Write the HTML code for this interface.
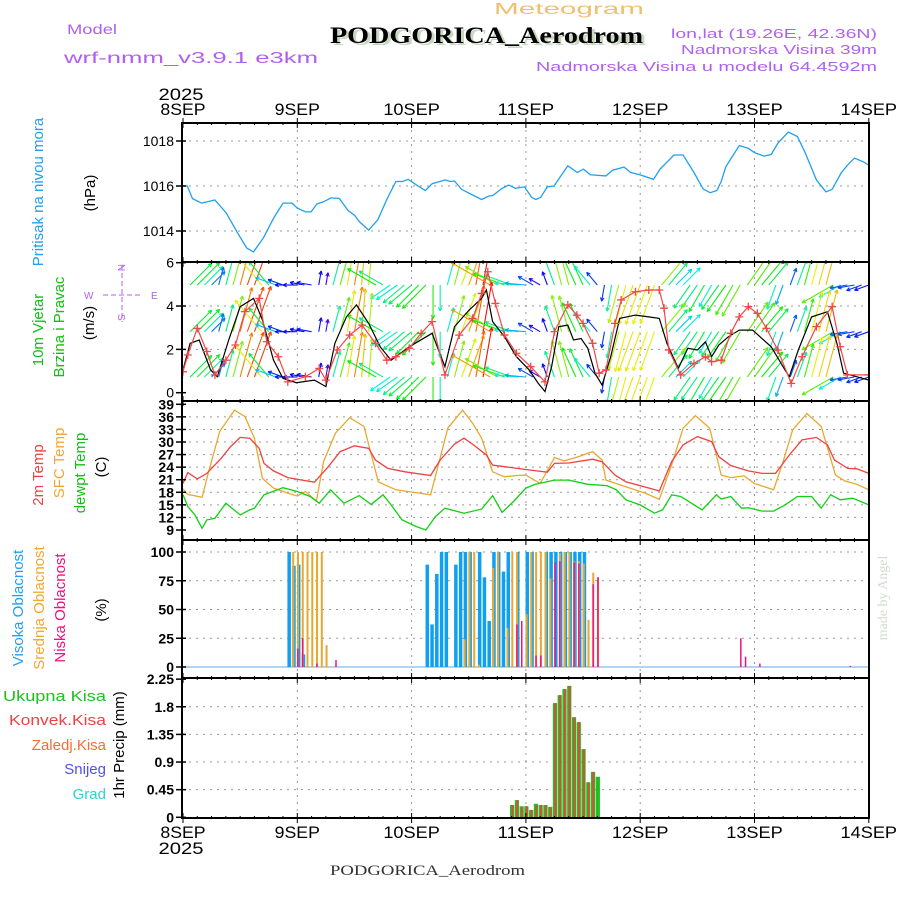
<!DOCTYPE html>
<html><head><meta charset="utf-8">
<style>
html,body{margin:0;padding:0;background:#fff;}
svg{display:block;font-family:"Liberation Sans",sans-serif;}
</style></head>
<body>
<svg id="chart" width="900" height="900" viewBox="0 0 900 900" xmlns="http://www.w3.org/2000/svg">
<defs>
<clipPath id="c1"><rect x="182" y="123" width="687" height="139"/></clipPath>
<clipPath id="c2"><rect x="182" y="263" width="687" height="138"/></clipPath>
<clipPath id="c3"><rect x="182" y="402" width="687" height="138"/></clipPath>
<clipPath id="c4"><rect x="182" y="541" width="687" height="137"/></clipPath>
<clipPath id="c5"><rect x="182" y="679" width="687" height="139"/></clipPath>
</defs>
<g>
<text x="569" y="14" fill="#f0c070" font-size="16" text-anchor="middle" textLength="150" lengthAdjust="spacingAndGlyphs">Meteogram</text>
<text x="67" y="34" fill="#b060f0" font-size="14" textLength="50" lengthAdjust="spacingAndGlyphs">Model</text>
<text x="64" y="63" fill="#b060f0" font-size="16" textLength="254" lengthAdjust="spacingAndGlyphs">wrf-nmm_v3.9.1 e3km</text>
<text x="333" y="45" fill="#c8d8c0" font-size="23" font-weight="bold" font-family="Liberation Serif, serif" textLength="313" lengthAdjust="spacingAndGlyphs">PODGORICA_Aerodrom</text>
<text x="330" y="43" fill="#000" font-size="23" font-weight="bold" font-family="Liberation Serif, serif" textLength="313" lengthAdjust="spacingAndGlyphs">PODGORICA_Aerodrom</text>
<text x="877" y="38" fill="#b060f0" font-size="13" text-anchor="end" textLength="206" lengthAdjust="spacingAndGlyphs">lon,lat (19.26E, 42.36N)</text>
<text x="877" y="54" fill="#b060f0" font-size="13" text-anchor="end" textLength="196" lengthAdjust="spacingAndGlyphs">Nadmorska Visina 39m</text>
<text x="877" y="71" fill="#b060f0" font-size="13" text-anchor="end" textLength="341" lengthAdjust="spacingAndGlyphs">Nadmorska Visina u modelu 64.4592m</text>
</g>
<g id="grid"></g>
<g id="marks"></g>
<g id="axes"></g>
<g font-size="15">
<text transform="translate(43,192) rotate(-90)" fill="#20a0f0" text-anchor="middle">Pritisak na nivou mora</text>
<text transform="translate(95,193) rotate(-90)" fill="#000" text-anchor="middle">(hPa)</text>
<text transform="translate(43,330) rotate(-90)" fill="#10c010" text-anchor="middle">10m Vjetar</text>
<text transform="translate(64,327) rotate(-90)" fill="#10c010" text-anchor="middle">Brzina i Pravac</text>
<text transform="translate(94,323) rotate(-90)" fill="#000" text-anchor="middle">(m/s)</text>
<text transform="translate(43,475) rotate(-90)" fill="#f04040" text-anchor="middle">2m Temp</text>
<text transform="translate(64,463) rotate(-90)" fill="#f0a830" text-anchor="middle">SFC Temp</text>
<text transform="translate(85,473) rotate(-90)" fill="#10c010" text-anchor="middle">dewpt Temp</text>
<text transform="translate(106,467) rotate(-90)" fill="#000" text-anchor="middle">(C)</text>
<text transform="translate(23,608) rotate(-90)" fill="#20a0f0" text-anchor="middle">Visoka Oblacnost</text>
<text transform="translate(44,608) rotate(-90)" fill="#f0a830" text-anchor="middle">Srednja Oblacnost</text>
<text transform="translate(65,608) rotate(-90)" fill="#f01080" text-anchor="middle">Niska Oblacnost</text>
<text transform="translate(106,610) rotate(-90)" fill="#000" text-anchor="middle">(%)</text>
<text transform="translate(124,745) rotate(-90)" fill="#000" text-anchor="middle">1hr Precip (mm)</text>
<g text-anchor="end" font-size="15">
<text x="106" y="701" fill="#20c020" textLength="103" lengthAdjust="spacingAndGlyphs">Ukupna Kisa</text>
<text x="106" y="725" fill="#f04040" textLength="97" lengthAdjust="spacingAndGlyphs">Konvek.Kisa</text>
<text x="106" y="750" fill="#f07030">Zaledj.Kisa</text>
<text x="106" y="774" fill="#5050f0">Snijeg</text>
<text x="106" y="799" fill="#30d0d0">Grad</text>
</g>
</g>
<g stroke="#b060f0" fill="#b060f0" font-size="10">
<line x1="103" y1="295" x2="140" y2="295" stroke-dasharray="5,3"/>
<line x1="122" y1="265" x2="122" y2="322" stroke-dasharray="5,3"/>
<text x="84" y="299" stroke="none">W</text>
<text x="151" y="299" stroke="none">E</text>
<text x="118" y="272" stroke="none" transform="rotate(90,122,268)">N</text>
<text x="118" y="322" stroke="none" transform="rotate(90,122,318)">S</text>
</g>
<text x="330" y="875" fill="#333" font-size="15" font-family="Liberation Serif, serif" textLength="195" lengthAdjust="spacingAndGlyphs">PODGORICA_Aerodrom</text>
<text transform="translate(887,598) rotate(-90)" fill="#d0dcd0" font-size="14" font-family="Liberation Serif, serif" text-anchor="middle">made by Angel</text>
</svg>
<script>
// ---------- data ----------
const dayLabels = ["8SEP","9SEP","10SEP","11SEP","12SEP","13SEP","14SEP"];
const presHours = [0,0.9,2,3.9,6.7,9.1,11.5,13.4,14.8,16.9,19.1,21,22.9,24,25.7,26.9,28.1,29.5,31.1,32.8,34.7,36,37.1,39,40.9,42.8,44.7,46.1,47.3,49,50.9,52.3,55.1,56.1,57,58.5,60.8,62.7,64.2,65.1,67,68.4,69.8,71.7,73.2,74.1,75.1,76.5,77.9,80.8,82.8,84.1,85.5,88.8,90.2,92.6,94,95.9,98.8,100.2,103.1,105,107.3,109.2,110.7,112.1,113,114,116.8,118.7,120.1,122,123.5,124.9,127.1,129,130.6,133,135,136.3,138.2,139.4,141,142.9,144];
const presVals = [1016.0,1016.0,1015.44,1015.24,1015.38,1014.8,1013.9,1013.24,1013.07,1013.7,1014.6,1015.24,1015.24,1015.02,1014.85,1014.85,1015.2,1015.3,1015.47,1015.45,1014.9,1014.7,1014.4,1014.04,1014.5,1015.4,1016.2,1016.2,1016.3,1016.05,1015.8,1016.1,1016.27,1016.2,1016.22,1015.85,1015.6,1015.4,1015.55,1015.58,1015.9,1016.04,1015.9,1015.96,1015.5,1015.4,1015.5,1015.96,1016.0,1016.9,1016.6,1016.75,1016.5,1016.45,1016.7,1016.84,1016.6,1016.5,1016.3,1016.76,1017.38,1017.38,1016.6,1015.87,1015.7,1015.8,1016.2,1016.86,1017.8,1017.67,1017.47,1017.33,1017.4,1017.9,1018.4,1018.2,1017.5,1016.27,1015.74,1015.85,1016.58,1016.9,1017.24,1017.07,1016.93];

const windHours = [0,1.5,3.4,5.8,7.2,9.6,12,14.8,16.7,19,21,23.8,27.6,30,31.9,34.3,36.4,39,41.4,43.7,47.5,52.3,55,57,60,62.7,63.7,65,67.5,70,72.7,74.6,76,77.4,78.9,80.8,82,83.6,85,86.5,88,89.8,91.7,95,97.8,100,101.6,104,106,108,109.7,111,112.5,114.5,116.8,119.6,123.5,126.4,127.3,129.2,132,135.3,137.3,138.7,144];
const windSpeed = [1.05,2.28,2.43,1.05,0.74,2.43,3.97,4.35,3.35,1.5,0.66,0.46,0.58,0.28,2.28,3.5,4.05,3.2,2.12,1.5,2.12,2.74,1.2,3.05,3.8,4.35,4.74,3.28,2.58,1.66,1.05,0.43,0.05,1.2,3.05,3.12,2.43,2.5,2.05,0.9,0.35,1.66,3.43,3.58,3.5,3.43,2.28,1.12,2.05,1.97,2.35,1.66,2.2,2.58,2.89,2.89,2.12,1.05,0.74,1.97,3.5,3.74,2.28,0.9,0.58];
const gustHours = [0,1,3,5,6.7,9,11,13,16,17.6,20,22,25.7,28.6,30,32.4,35,37.6,40.4,42.8,44.7,47.5,50,52.3,55,58,60.8,62.7,64,65.6,67.5,70,73,76,78,80.8,82.7,84,86,87.4,88.8,90.7,92,95,97.8,100,101,102,104.5,107.3,109.7,111,113,115,116.8,118.7,120.6,122.5,124.9,127.7,130,133,136.3,138,139.5,144];
const gustSpeed = [0.97,1.74,2.97,1.9,0.82,1.5,2.2,3.74,4.35,2.35,1.66,0.5,0.74,1.12,0.58,1.97,2.66,3.12,2.28,1.5,1.66,2.05,2.74,3.28,0.82,2.66,3.43,4.58,5.58,4.12,2.66,1.82,1.2,0.5,2.82,4.05,3.58,3.2,2.28,0.9,1.05,3.2,4.28,4.66,4.74,4.74,3.9,1.97,0.82,1.35,1.66,1.43,1.5,2.74,3.5,3.97,3.66,2.97,1.97,0.43,1.66,3.05,3.97,2.12,0.82,0.82];
const windDirHours = [0,3,6,9,12,15,18,21,24,27,30,33,36,39,42,45,48,51,54,57,60,63,66,69,72,75,78,81,84,87,90,93,96,99,102,105,108,111,114,117,120,123,126,129,132,135,138,141,144];
const windDir = [210,45,45,15,15,20,320,290,270,280,10,15,10,5,300,235,230,225,180,15,20,10,300,290,275,300,340,345,335,320,190,195,200,200,40,45,215,210,215,210,35,40,200,20,15,15,240,260,250];

const t2Hours = [0,1,3,5,8,10,12,14,16,17,19,22,25,27.6,30.5,33,36,39,40.4,43,46.6,52,54,57,59,61,63.7,65,67.5,73,76.5,78,81,86,88,90.7,93,98,100,102.6,105,108,111,112.5,115,118.7,121.6,124.4,127.3,130,133,135.3,136.8,139.6,141.5,144];
const t2Vals = [20.1,22.7,21.2,22.5,26.1,28.9,31.1,30.9,28.5,24.9,23.1,21.5,20.9,20.4,24.1,27.7,29.1,28.5,25.7,23.7,22.9,22.0,25.7,29.5,30.9,29.3,26.9,24.5,24.1,23.3,22.8,24.9,25.0,25.9,25.3,22.1,20.5,18.95,18.3,25.3,29.3,31.3,30.1,26.5,24.4,23.1,22.5,22.5,26.9,30.5,31.1,29.3,25.7,23.7,23.6,22.5];
const sfcHours = [0,1,4,5.3,7.7,10.8,13,15,16.7,19,22,24,25.7,28,29.5,32,35,38,41,44.7,52,55.6,58.7,60.8,62.7,65,67.5,70,72,75,78,80,83,86,88,88.8,92,97,100,102.6,105,107.6,110.6,113,115,117.8,120,124,126,128,131,134,137,139,141.5,144];
const sfcVals = [18.8,17.5,16.8,22.5,32.5,37.6,36.1,30.9,21.3,19.0,17.8,17.1,18.2,15.9,25.3,32.1,35.8,33.7,20.5,18.6,17.4,33.3,37.6,34.5,30.9,22.9,21.7,22.0,22.1,20.1,26.3,25.5,26.5,27.7,25.7,20.9,19.7,17.8,16.3,24.5,33.3,36.3,33.3,22.1,21.5,21.9,20.1,18.6,25.3,32.9,36.8,33.7,22.1,20.7,19.9,18.6];
const dewHours = [0,1,2.5,4,5,6.7,9,12,14,15,17,21,24,26.7,28.6,31,33.8,37,39.5,42,43.7,46,49,51,53,55,59,62.7,65,67,69.4,72,74,78,81,85,89,91,93,96,99,100.7,102.6,104.5,109,112,113,115,117.3,118.7,121.6,124,126.4,129,132,134,136,138,140.6,144];
const dewVals = [17.4,14.6,12.6,9.4,11.4,11.8,15.4,12.6,13.8,14.2,17.4,19.1,18.2,17.0,15.4,18.6,15.4,17.2,15.1,17.4,15.0,11.4,9.8,9.0,12.2,14.2,13.0,14.0,17.2,13.2,15.8,19.0,19.9,20.9,20.9,19.9,19.6,18.6,16.2,15.0,13.0,13.8,17.4,17.0,13.8,17.4,16.4,17.0,14.2,14.3,13.5,13.5,15.0,17.0,17.0,14.2,17.4,16.2,16.6,15.0];

const highHours = [22,23,24,25,51,52,53,54,55,57,58,59,60,62,63,64,65,66,67,68,70,72,73,76,77,78,79,80,81,82,83,84];
const highVals = [100,88,89,11,89,37,81,100,100,89,100,100,100,100,78,40,100,100,83,100,100,100,100,100,100,100,100,100,100,100,100,100];
const midHours = [23,24,25,26,27,28,29,30,59,60,61,62,65,66,68,69,70,72,73,74,75,76,77,79,80,81,82,83,84,85,86,87];
const midVals = [100,100,100,100,100,100,100,19,24,100,100,2,86,100,34,100,100,46,100,100,100,100,77,99,100,100,92,92,90,41,82,78];
const lowHours = [24,25,28,32,70,71,74,75,78,79,82,83,86,87,117,118,121,140];
const lowVals = [16,25,3,6,37,40,10,10,91,92,91,90,72,78,25,9,3,1];

const precipHours = [69,70,71,72,73,74,75,76,77,78,79,80,81,82,83,84,85,86,87];
const precipTotal = [0.20,0.28,0.18,0.18,0.12,0.22,0.20,0.20,0.17,1.86,1.99,2.09,2.14,1.63,1.55,1.11,0.57,0.74,0.66];
const precipConv = [0.20,0.28,0.16,0.18,0.12,0.20,0.20,0.20,0.15,1.86,1.99,2.09,2.14,1.63,1.55,1.11,0.57,0.74,0.0];

const presTicks = [1014,1016,1018];
const windTicks = [0,2,4,6];
const tempTicks = [9,12,15,18,21,24,27,30,33,36,39];
const cloudTicks = [0,25,50,75,100];
const precipTicks = [0,0.45,0.9,1.35,1.8,2.25];

// ---------- scales ----------
const L = 182, R = 869;
const X = h => 183 + h * 4.7625;
const yP = v => 186 - (v - 1016) * 22.5;
const yW = v => 392.7 - v * 21.67;
const yT = v => 404.3 + (39 - v) * 4.19;
const yC = v => 667 - v * 1.15;
const yR = v => 817.3 - v * 61.4;
const panels = [[123,262],[262,401],[401,540],[540,678],[678,818]];

const NS = "http://www.w3.org/2000/svg";
function mk(tag, attrs, parent) {
  const e = document.createElementNS(NS, tag);
  for (const k in attrs) e.setAttribute(k, attrs[k]);
  parent.appendChild(e);
  return e;
}
const grid = document.getElementById('grid');
const marks = document.getElementById('marks');
const axes = document.getElementById('axes');

for (let d = 1; d < 6; d++) {
  const gl = mk('line', {x1: X(d*24), x2: X(d*24), y1: 123, y2: 818, stroke: '#999', 'stroke-width': 1, 'stroke-dasharray': '2,5'}, grid);
  
  
}
function hgrid(vals, f) {
  vals.forEach(v => {
    const g = mk('line', {x1: L, x2: R, y1: f(v), y2: f(v), stroke: '#999', 'stroke-width': 1, 'stroke-dasharray': '2,5'}, grid);
    
    
  });
}
hgrid(presTicks, yP); hgrid([2,4], yW); hgrid(tempTicks.slice(1,-1), yT); hgrid(cloudTicks.slice(1), yC); hgrid(precipTicks.slice(1,-1), yR);

function pathD(hs, vs, fy) { return hs.map((h,i) => (i ? 'L' : 'M') + X(h).toFixed(1) + ',' + fy(vs[i]).toFixed(1)).join(''); }
function line(hs, vs, fy, color, clip, name, w) {
  const p = mk('path', {d: pathD(hs, vs, fy), fill: 'none', stroke: color, 'stroke-width': w || 1.3, 'clip-path': 'url(#' + clip + ')'}, marks);
  
  
  return p;
}
line(presHours, presVals, yP, '#20a0f0', 'c1', 'pressure-line');

function interp(hs, vs, h) {
  if (h <= hs[0]) return vs[0];
  for (let i = 1; i < hs.length; i++) if (h <= hs[i]) { const f = (h - hs[i-1]) / (hs[i] - hs[i-1]); return vs[i-1] + f * (vs[i] - vs[i-1]); }
  return vs[vs.length - 1];
}
const arrowG = mk('g', {'clip-path': 'url(#c2)'}, marks);


[285, 331.7, 377].forEach(base => {
  for (let h = 0; h <= 144; h += 1.5) {
    const idx = Math.round(h / 3);
    const dir = windDir[Math.min(idx, windDir.length - 1)] * Math.PI / 180;
    const sp = interp(windHours, windSpeed, h);
    const len = 10 + sp * 9;
    const hue = Math.max(0, 270 - sp / 4.5 * 270);
    const col = 'hsl(' + hue + ',95%,48%)';
    const x0 = X(h), y0 = base;
    const x1 = x0 + Math.sin(dir) * len, y1 = y0 - Math.cos(dir) * len;
    const a = mk('g', {stroke: col, 'stroke-width': 1.1}, arrowG);
    
    
    mk('line', {x1: x0, y1: y0, x2: x1, y2: y1}, a);
    const back = dir + Math.PI;
    [0.45, -0.45].forEach(o => {
      mk('line', {x1: x1, y1: y1, x2: x1 + Math.sin(back + o) * 4, y2: y1 - Math.cos(back + o) * 4}, a);
    });
  }
});
line(windHours, windSpeed, yW, '#000', 'c2', 'wind-speed-line', 1.2);
line(gustHours, gustSpeed, yW, '#f04848', 'c2', 'wind-gust-line', 1.2);
const gm = mk('g', {stroke: '#f04848', 'stroke-width': 1.3, 'clip-path': 'url(#c2)'}, marks);


gustHours.forEach((h, i) => {
  const x = X(h), y = yW(gustSpeed[i]);
  mk('path', {d: 'M' + (x-4) + ',' + y + 'H' + (x+4) + 'M' + x + ',' + (y-4) + 'V' + (y+4)}, gm);
});

line(sfcHours, sfcVals, yT, '#e8a830', 'c3', 'sfc-temp-line');
line(t2Hours, t2Vals, yT, '#f04040', 'c3', 'temp-2m-line');
line(dewHours, dewVals, yT, '#10d010', 'c3', 'dewpoint-line');

mk('line', {x1: L, x2: R, y1: 667, y2: 667, stroke: '#90c8f0', 'stroke-width': 1.5}, marks);
function bars(hs, vs, fy, base, color, off, w, name) {
  hs.forEach((h, i) => {
    const y = fy(vs[i]);
    const r = mk('rect', {x: X(h) + off - w/2, y: y, width: w, height: Math.max(0, base - y), fill: color}, marks);
    
    
  });
}
bars(highHours, highVals, yC, 667, '#10a0f0', 1.4, 3.5, 'high-cloud-bar');
bars(midHours, midVals, yC, 667, '#e8a830', 0.7, 2, 'mid-cloud-bar');
bars(lowHours, lowVals, yC, 667, '#f01080', 0.6, 1.5, 'low-cloud-bar');

bars(precipHours, precipTotal, yR, 817.3, '#20c020', 0.5, 4.2, 'precip-total-bar');
bars(precipHours, precipConv, yR, 817.3, '#f04040', 0.9, 1.8, 'precip-convective-bar');

panels.forEach((p, i) => {
  const r = mk('rect', {x: L, y: p[0], width: R - L, height: p[1] - p[0], fill: 'none', stroke: '#000', 'stroke-width': 2}, axes);
  
  
});
panels.forEach(p => {
  for (let h = 0; h <= 144; h += 3) {
    const big = h % 24 === 0;
    mk('line', {x1: X(h), x2: X(h), y1: p[0], y2: p[0] + (big ? 5 : 2), stroke: '#000', 'stroke-width': 1}, axes);
    mk('line', {x1: X(h), x2: X(h), y1: p[1], y2: p[1] - (big ? 5 : 2), stroke: '#000', 'stroke-width': 1}, axes);
  }
});
for (let d = 0; d <= 6; d++) {
  mk('line', {x1: X(d*24), x2: X(d*24), y1: 118, y2: 123, stroke: '#000'}, axes);
  mk('line', {x1: X(d*24), x2: X(d*24), y1: 818, y2: 823, stroke: '#000'}, axes);
}
function yticks(vals, f, fmt, bold, name) {
  vals.forEach(v => {
    const y = f(v);
    mk('line', {x1: L - 6, x2: L + 4, y1: y, y2: y, stroke: '#000', 'stroke-width': 1.5}, axes);
    const t = mk('text', {x: L - 8, y: y + 5, 'text-anchor': 'end', 'font-size': 14, 'font-weight': bold ? 'bold' : 'normal', fill: '#000'}, axes);
    t.textContent = fmt(v);
    
    
  });
}
yticks(presTicks, yP, v => v, false, 'pressure-tick-label');
yticks(windTicks, yW, v => v, false, 'wind-tick-label');
yticks(tempTicks, yT, v => v, true, 'temp-tick-label');
yticks(cloudTicks, yC, v => v, true, 'cloud-tick-label');
yticks(precipTicks, yR, v => v, true, 'precip-tick-label');
function xlabels(y, yearY) {
  dayLabels.forEach((s, d) => {
    const t = mk('text', {x: X(d*24), y: y, 'text-anchor': 'middle', 'font-size': 17, fill: '#000', textLength: s.length * 11.3, lengthAdjust: 'spacingAndGlyphs'}, axes);
    t.textContent = s;
    
    
  });
  const yr = mk('text', {x: X(0) - 2, y: yearY, 'text-anchor': 'middle', 'font-size': 17, fill: '#000', textLength: 45, lengthAdjust: 'spacingAndGlyphs'}, axes);
  yr.textContent = '2025';
  
  
}
xlabels(115, 100);
xlabels(838, 854);
</script>
</body></html>
